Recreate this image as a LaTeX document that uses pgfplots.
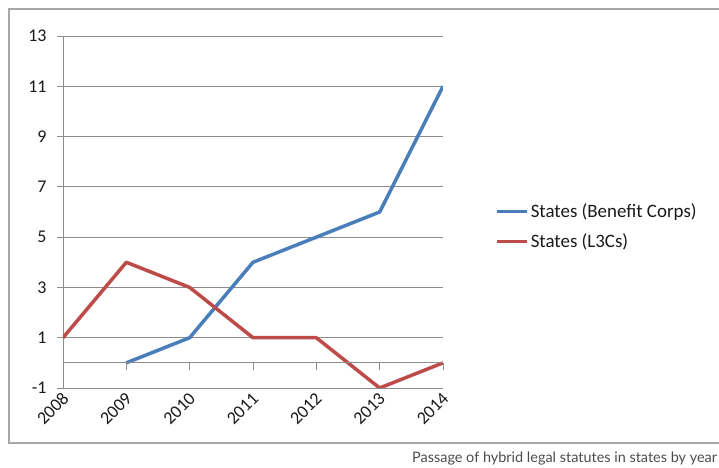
\documentclass[border=0pt]{standalone}
\usepackage{pgfplots}
\pgfplotsset{compat=1.18}
\usepackage{fontspec}
\setmainfont{Carlito}
\newfontfamily\captionfont{Lato}
\definecolor{bcblue}{HTML}{4A7EBB}
\definecolor{l3red}{HTML}{BE4B48}
\definecolor{gridgray}{HTML}{8C8C8C}
\definecolor{framegray}{HTML}{A8A8A8}
\definecolor{txt}{HTML}{1A1A1A}
\begin{document}
\begin{tikzpicture}
\useasboundingbox (0bp,0bp) rectangle (719bp,468bp);
\draw[framegray, line width=1.6bp] (9bp,25bp) rectangle (760bp,459bp);
\node[anchor=base west, text=black!70, inner sep=0pt] at (412bp,6bp)
  {\captionfont\fontsize{14.5}{17}\selectfont Passage of hybrid legal statutes in states by year};
\begin{axis}[
  at={(63bp,80bp)}, anchor=south west,
  scale only axis, width=380bp, height=352bp,
  xmin=2008, xmax=2014, ymin=-1, ymax=13,
  axis y line=left, axis x line=bottom,
  axis line style={-, gridgray, line width=0.8bp},
  x axis line style={draw=none},
  xtick={2008,...,2014},
  x tick label style={/pgf/number format/1000 sep={}, rotate=45, anchor=east, xshift=4bp, yshift=-3bp},
  xtick style={draw=none},
  ytick={-1,1,...,13},
  ymajorgrids,
  grid style={gridgray, line width=0.8bp},
  tick align=outside,
  major tick length=6bp,
  ytick style={gridgray, line width=0.8bp},
  y tick label style={xshift=-7bp},
  tick label style={font=\fontsize{18}{20}\selectfont, text=txt},
  /pgf/number format/assume math mode=true,
  legend style={at={(1.137,0.459)}, anchor=west, draw=none, fill=none,
    font=\fontsize{19}{21}\selectfont, text=txt,
    row sep=11bp, inner sep=0pt,
    /tikz/every even column/.append style={column sep=0pt}},
  legend cell align=left,
  legend image code/.code={\draw[#1] (0bp,0bp) -- (30bp,0bp);},
  every axis plot/.append style={line width=3.5bp, line join=round},
]
\addplot[bcblue] coordinates {(2009,0) (2010,1) (2011,4) (2012,5) (2013,6) (2014,11)};
\addlegendentry{States (Benefit Corps)}
\addplot[l3red] coordinates {(2008,1) (2009,4) (2010,3) (2011,1) (2012,1) (2013,-1) (2014,0)};
\addlegendentry{States (L3Cs)}
\end{axis}
\begin{axis}[
  at={(63bp,80bp)}, anchor=south west,
  scale only axis, width=380bp, height=352bp,
  xmin=2008, xmax=2014, ymin=-1, ymax=13,
  hide y axis,
  axis x line=middle,
  axis line style={-, gridgray, line width=0.8bp},
  xtick={2008,...,2014}, xticklabels={},
  tick align=outside, major tick length=7bp,
  xtick style={gridgray, line width=0.8bp},
]
\end{axis}
\end{tikzpicture}
\end{document}
